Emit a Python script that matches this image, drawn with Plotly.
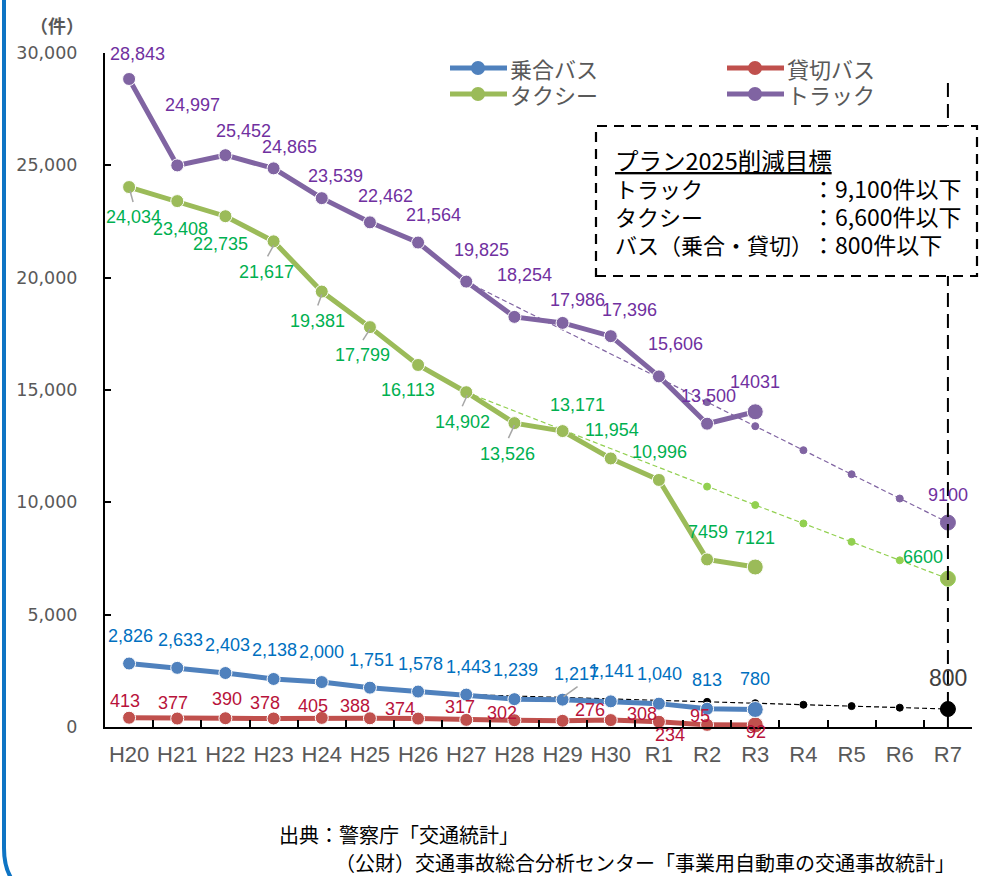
import plotly.graph_objects as go

# ---- data -----------------------------------------------------------------
years = ["H20", "H21", "H22", "H23", "H24", "H25", "H26", "H27", "H28", "H29",
         "H30", "R1", "R2", "R3", "R4", "R5", "R6", "R7"]
actual_years = years[:14]

bus = [2826, 2633, 2403, 2138, 2000, 1751, 1578, 1443, 1239, 1217, 1141, 1040, 813, 780]
charter = [413, 377, 390, 378, 405, 388, 374, 317, 302, 276, 308, 234, 95, 92]
taxi = [24034, 23408, 22735, 21617, 19381, 17799, 16113, 14902, 13526, 13171,
        11954, 10996, 7459, 7121]
truck = [28843, 24997, 25452, 24865, 23539, 22462, 21564, 19825, 18254, 17986,
         17396, 15606, 13500, 14031]

# path toward the 2025 plan targets (H27 -> R7)
proj_years = ["H27", "R2", "R3", "R4", "R5", "R6", "R7"]
truck_proj = [19825, 14460, 13390, 12320, 11250, 10170, 9100]
taxi_proj = [14902, 10700, 9880, 9060, 8240, 7420, 6600]
bus_proj = [1443, 1120, 1060, 990, 930, 860, 800]

# ---- geometry helpers ----------------------------------------------------
W, H = 984, 876
ML, MR, MT, MB = 105, 12, 53, 149
PW, PH = W - ML - MR, H - MT - MB


def px(x):
    return (x - ML) / PW


def py(y):
    return (H - MB - y) / PH


NUM = "Liberation Sans, Arial, sans-serif"
AXF = "DejaVu Sans, Verdana, sans-serif"
JP = "Noto Sans CJK JP, sans-serif"

C_TRUCK, C_TAXI, C_BUS, C_CHARTER = "#8064A2", "#9BBB59", "#4F81BD", "#C0504D"
T_TRUCK, T_TAXI, T_BUS, T_CHARTER = "#7030A0", "#00B050", "#0070C0", "#B8123A"

fig = go.Figure()

# projection lines (thin dashed with small dots)
for yv, lc, dc, big in [(truck_proj, C_TRUCK, C_TRUCK, C_TRUCK),
                        (taxi_proj, "#92D050", "#92D050", C_TAXI),
                        (bus_proj, "#000000", "#000000", "#000000")]:
    fig.add_trace(go.Scatter(
        x=proj_years, y=yv, mode="lines+markers",
        line=dict(color=lc, width=1.2, dash="5px,3px"),
        marker=dict(size=[0, 7, 7, 7, 7, 7, 15], color=[dc] * 6 + [big], opacity=1),
        showlegend=False, hoverinfo="skip", cliponaxis=False))

# actual series
sizes = [13] * 13 + [16]
for yv, col in [(charter, C_CHARTER), (bus, C_BUS), (taxi, C_TAXI), (truck, C_TRUCK)]:
    fig.add_trace(go.Scatter(
        x=actual_years, y=yv, mode="lines+markers",
        line=dict(color=col, width=5),
        marker=dict(size=sizes, color=col, opacity=1),
        showlegend=False, cliponaxis=False))

# ---- data labels ---------------------------------------------------------
truck_off = [(8, -25), (15, -60), (18, -24), (16, -21), (14, -22), (16, -26), (15, -28),
             (15, -32), (10, -42), (15, -23), (19, -26), (17, -32), (1, -28), (0, -30)]
taxi_off = [(4, 30), (3, 28), (-5, 28), (-7, 31), (-4, 29), (-7, 28), (-10, 25),
            (-4, 30), (-7, 31), (15, -26), (1, -28), (1, -28), (1, -27), (0, -29)]
bus_off = [(1, -28), (3, -28), (2, -28), (1, -29), (0, -30), (2, -28), (2, -28),
           (2, -28), (1, -29), (14, -26), (1, -30), (1, -30), (0, -29), (0, -30)]
charter_off = [(-4, -17), (-4, -16), (2, -19), (-9, -16), (-9, -12), (-15, -12), (-18, -10),
               (-6, -13), (-12, -7), (27, -11), (31, -6), (11, 13), (-7, -9), (1, 7)]

no_comma = {"truck": {13}, "taxi": {12, 13}}


def fmt(v, plain):
    return str(v) if plain else f"{v:,}"


annotations = []
shapes = []


def add_labels(values, offs, color, key):
    for i, (v, (dx, dy)) in enumerate(zip(values, offs)):
        annotations.append(dict(
            x=actual_years[i], y=v, text=fmt(v, i in no_comma.get(key, set())),
            showarrow=False, xshift=dx, yshift=-dy,
            font=dict(family=NUM, size=18, color=color)))


add_labels(truck, truck_off, T_TRUCK, "truck")
add_labels(taxi, taxi_off, T_TAXI, "taxi")
add_labels(bus, bus_off, T_BUS, "bus")
add_labels(charter, charter_off, T_CHARTER, "charter")

# short grey leader lines from a point to its displaced label (pixel offsets)
leaders = [(taxi, 0, (1, 4, 4, 15)), (taxi, 3, (0, 4, -6, 15)), (taxi, 4, (0, 3, -4, 14)),
           (taxi, 5, (0, 2, -7, 13)), (taxi, 7, (1, 3, -4, 14)), (taxi, 8, (0, 2, -6, 15)),
           (bus, 9, (1, -3, 15, -13))]
for series, i, (x0, y0, x1, y1) in leaders:
    shapes.append(dict(type="line", xref="x", yref="y",
                       xsizemode="pixel", ysizemode="pixel",
                       xanchor=actual_years[i], yanchor=series[i],
                       x0=x0, x1=x1, y0=-y0, y1=-y1,
                       line=dict(color="#A6A6A6", width=1.5)))

# plan targets at R7
annotations += [
    dict(x="R7", y=truck_proj[-1], text=str(truck_proj[-1]), showarrow=False,
         xshift=0, yshift=28, font=dict(family=NUM, size=18, color=T_TRUCK)),
    dict(x="R7", y=taxi_proj[-1], text=str(taxi_proj[-1]), showarrow=False,
         xshift=-25, yshift=22, font=dict(family=NUM, size=18, color=T_TAXI)),
    dict(x="R7", y=bus_proj[-1], text=str(bus_proj[-1]), showarrow=False,
         xshift=0, yshift=31, font=dict(family=NUM, size=23, color="#404040")),
]


def paper_text(x, y, text, size, color="black", anchor="left", family=JP):
    annotations.append(dict(xref="paper", yref="paper", x=px(x), y=py(y),
                            xanchor=anchor, yanchor="middle", text=text,
                            showarrow=False,
                            font=dict(family=family, size=size, color=color)))


# unit label
paper_text(57, 25, "<b>（件）</b>", 18, "#595959", anchor="center")

# ---- legend (drawn by hand: two columns) -----------------------------------
legend_items = [("乗合バス", C_BUS, 450, 68), ("貸切バス", C_CHARTER, 727, 68),
                ("タクシー", C_TAXI, 450, 94), ("トラック", C_TRUCK, 727, 94)]
for name, col, x0, yc in legend_items:
    shapes.append(dict(type="line", xref="paper", yref="paper",
                       x0=px(x0), x1=px(x0 + 57), y0=py(yc), y1=py(yc),
                       line=dict(color=col, width=5)))
    shapes.append(dict(type="circle", xref="paper", yref="paper",
                       x0=px(x0 + 21), x1=px(x0 + 35), y0=py(yc + 7), y1=py(yc - 7),
                       fillcolor=col, line=dict(color=col, width=0)))
    paper_text(x0 + 58, yc, name, 22, "#595959")

# ---- target year marker line and plan box ---------------------------------
shapes.append(dict(type="line", xref="x", yref="paper", x0="R7", x1="R7",
                   y0=0, y1=py(78), line=dict(color="black", width=2, dash="14px,7px")))
shapes.append(dict(type="rect", xref="paper", yref="paper",
                   x0=px(596), x1=px(977), y0=py(276), y1=py(126),
                   fillcolor="white", line=dict(color="black", width=2.2, dash="10px,7px")))

paper_text(613, 160, "<u>プラン2025削減目標</u>", 23.5)
box_rows = [("トラック", "：9,100件以下", 188),
            ("タクシー", "：6,600件以下", 216),
            ("バス（乗合・貸切）", "：800件以下", 244)]
for left, right, yc in box_rows:
    paper_text(613, yc, left, 22)
    paper_text(810, yc, right, 23)

# ---- source note ---------------------------------------------------------
paper_text(277, 834, "出典：警察庁「交通統計」", 20)
paper_text(333, 862, "（公財）交通事故総合分析センター「事業用自動車の交通事故統計」", 20)

# ---- panel frame on the left --------------------------------------------
shapes.append(dict(type="path", xref="paper", yref="paper",
                   path=f"M {px(4)},{py(-5)} L {px(4)},{py(848)} "
                        f"Q {px(4)},{py(870)} {px(14)},{py(882)}",
                   line=dict(color="#0E74C4", width=4)))

fig.update_layout(
    width=W, height=H,
    margin=dict(l=ML, r=MR, t=MT, b=MB),
    paper_bgcolor="white", plot_bgcolor="white",
    showlegend=False,
    annotations=annotations, shapes=shapes,
    xaxis=dict(type="category", categoryorder="array", categoryarray=years,
               range=[-0.5, 17.5], showgrid=False, zeroline=False,
               showline=True, linecolor="black", linewidth=2,
               ticks="inside", tickson="boundaries", ticklen=7, tickwidth=1.5,
               tickcolor="black", ticklabelstandoff=7, tickangle=0,
               tickfont=dict(family=NUM, size=22, color="#595959")),
    yaxis=dict(range=[0, 30000], dtick=5000, tickformat=",", showgrid=False,
               zeroline=False, showline=True, linecolor="black", linewidth=2,
               ticks="inside", ticklen=6, tickwidth=1.5, tickcolor="black",
               ticklabelstandoff=22,
               tickfont=dict(family=AXF, size=17.5, color="#595959")),
)

fig.write_html("out.html")
